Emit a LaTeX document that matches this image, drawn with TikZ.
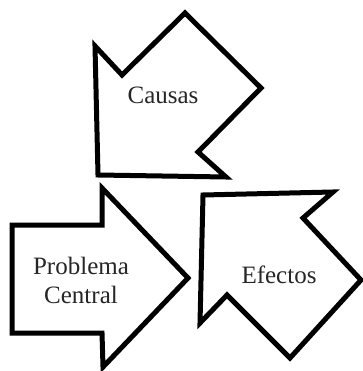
\documentclass[tikz,border=0pt]{standalone}
\usepackage{fontspec}
\setmainfont{Liberation Serif}
\begin{document}
\begin{tikzpicture}[x=1pt,y=-1pt,
  shapebox/.style={draw=black,line width=5pt,fill=white,line join=miter},
  lbl/.style={font=\fontsize{25}{29}\selectfont,align=center,text=black!85,inner sep=0pt}]
\useasboundingbox (0,0) rectangle (362,371);
% Causas arrow
\draw[shapebox] (185,13) -- (261,88) -- (198,152) -- (226,177) -- (98,175) -- (95,46) -- (122,75) -- cycle;
% Problema Central arrow
\draw[shapebox] (12,225) -- (102,225) -- (102,188) -- (188,278) -- (103,367) -- (102,333) -- (12,333) -- cycle;
% Efectos arrow
\draw[shapebox] (203,195) -- (333,192) -- (303,218) -- (361,280) -- (290,358) -- (227,295) -- (200,323) -- cycle;
\node[lbl,anchor=base] (causas) at (163,104) {Causas};
\node[lbl] (problema) at (81,280) {Problema\\Central};
\node[lbl,anchor=base] (efectos) at (279,283) {Efectos};
\end{tikzpicture}
\end{document}
